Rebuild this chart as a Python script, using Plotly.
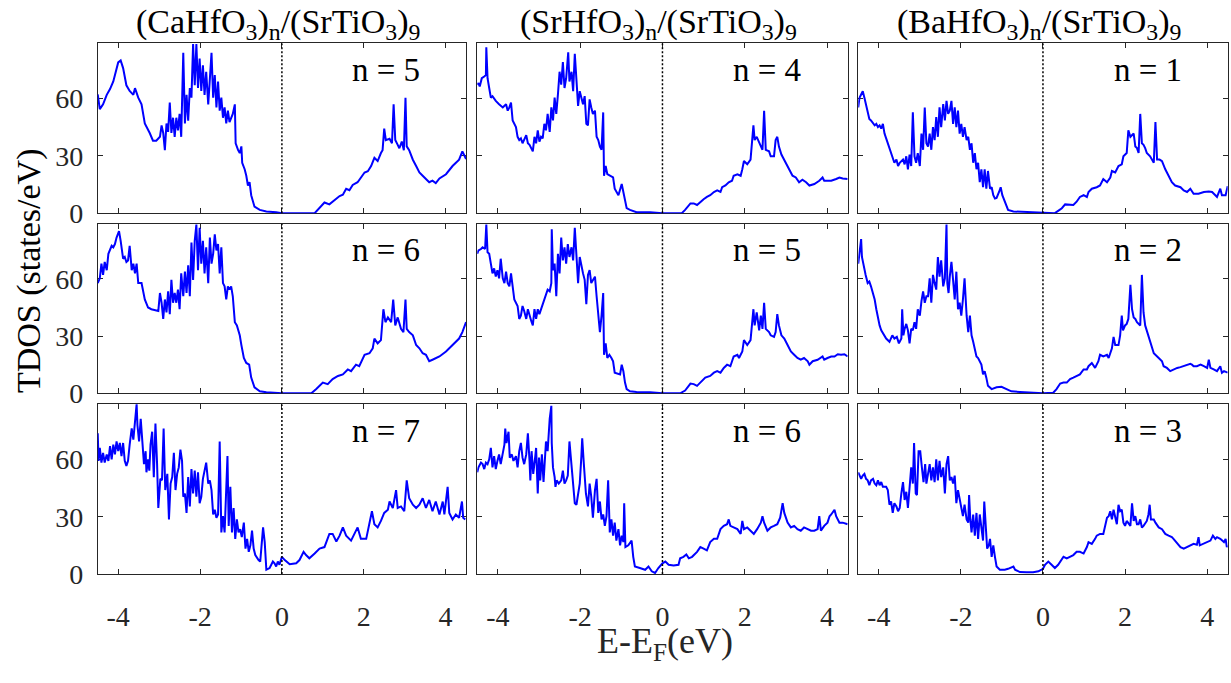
import plotly.graph_objects as go

# ---------------------------------------------------------------
# Total density of states near the Fermi level, E - E_F in eV,
# for three superlattice families (columns) and three n (rows).
# ---------------------------------------------------------------

# (CaHfO3)n/(SrTiO3)9, n = 5
e_ca5 = [-4.50,-4.45,-4.37,-4.28,-4.20,-4.12,-4.00,-3.94,-3.88,-3.80,-3.72,-3.63,-3.59,-3.51,-3.43,-3.35,-3.23,-3.15,-3.07,-2.98,
         -2.94,-2.90,-2.86,-2.82,-2.78,-2.74,-2.70,-2.66,-2.62,-2.58,-2.54,-2.50,-2.46,-2.41,-2.37,-2.33,-2.29,-2.25,-2.21,-2.17,
         -2.13,-2.09,-2.05,-2.01,-1.97,-1.93,-1.89,-1.85,-1.80,-1.76,-1.72,-1.68,-1.64,-1.60,-1.56,-1.52,-1.48,-1.44,-1.40,-1.36,
         -1.32,-1.28,-1.20,-1.15,-1.13,-1.07,-1.03,-0.99,-0.97,-0.91,-0.87,-0.83,-0.79,-0.75,-0.67,-0.54,-0.38,-0.14,0.00,0.80,
         0.92,1.04,1.16,1.24,1.33,1.41,1.49,1.57,1.65,1.73,1.85,1.93,2.02,2.10,2.18,2.26,2.34,2.42,2.46,2.50,
         2.54,2.63,2.69,2.73,2.77,2.83,2.87,2.93,2.98,3.02,3.05,3.11,3.20,3.28,3.36,3.44,3.60,3.68,3.76,3.85,
         4.01,4.17,4.33,4.41,4.50]
dos_ca5 = [62.2,54.5,57.0,62.0,65.0,69.0,79.0,80.0,76.0,67.0,64.0,62.0,65.5,60.5,57.0,47.0,42.0,38.0,38.0,40.0,
           46.0,42.0,33.0,47.0,42.6,58.0,42.0,50.0,40.0,50.0,43.4,52.0,40.0,84.0,47.0,62.0,48.5,65.6,60.5,88.6,
           67.0,88.6,65.6,81.0,64.0,77.5,62.0,74.0,57.0,72.4,84.0,60.5,72.4,55.4,69.0,53.7,60.5,50.0,55.4,47.0,
           53.7,47.7,52.0,57.0,36.6,33.0,31.5,35.0,26.4,23.0,19.6,14.5,16.2,9.4,3.4,1.7,0.9,0.5,0.0,0.0,
           2.6,5.6,4.6,6.0,8.0,9.0,9.7,12.8,12.0,14.8,16.2,18.7,21.3,22.0,24.7,29.0,27.3,31.5,33.0,44.3,
           38.3,39.0,36.6,57.0,38.3,35.8,34.0,37.5,33.0,60.5,35.0,33.0,28.0,24.7,21.3,19.6,16.2,17.0,15.8,18.2,
           20.4,24.7,28.0,32.4,28.4]

# (CaHfO3)n/(SrTiO3)9, n = 6
e_ca6 = [-4.50,-4.45,-4.41,-4.37,-4.33,-4.28,-4.24,-4.20,-4.16,-4.12,-4.08,-4.04,-3.98,-3.94,-3.88,-3.84,-3.80,-3.76,-3.72,-3.67,
         -3.63,-3.59,-3.55,-3.51,-3.43,-3.35,-3.27,-3.19,-3.11,-3.02,-2.98,-2.94,-2.90,-2.86,-2.82,-2.78,-2.74,-2.70,-2.66,-2.62,
         -2.58,-2.54,-2.50,-2.46,-2.41,-2.37,-2.33,-2.29,-2.25,-2.21,-2.17,-2.13,-2.09,-2.05,-2.01,-1.97,-1.93,-1.89,-1.85,-1.80,
         -1.76,-1.72,-1.68,-1.64,-1.60,-1.56,-1.52,-1.48,-1.44,-1.40,-1.36,-1.32,-1.28,-1.24,-1.20,-1.15,-1.10,-1.03,-0.99,-0.93,
         -0.87,-0.80,-0.75,-0.67,-0.54,-0.38,0.00,0.72,0.84,1.00,1.12,1.24,1.37,1.49,1.61,1.69,1.81,1.89,2.02,2.14,
         2.22,2.26,2.34,2.42,2.48,2.53,2.59,2.67,2.72,2.77,2.83,2.91,2.97,3.02,3.05,3.11,3.20,3.28,3.36,3.44,
         3.52,3.60,3.68,3.85,4.01,4.17,4.33,4.41,4.50]
dos_ca6 = [57.8,60.3,68.0,62.1,68.9,64.6,73.2,74.9,77.4,76.6,78.3,81.7,85.1,80.0,70.6,71.5,68.9,69.7,77.4,64.6,
           68.0,62.9,68.0,57.8,57.8,49.2,45.0,44.1,43.8,43.2,52.6,47.5,39.0,49.2,42.4,53.5,41.5,59.5,47.5,52.6,
           47.5,54.4,44.1,62.9,50.9,63.8,52.6,67.2,50.9,79.1,59.5,80.0,88.5,64.6,86.8,68.0,80.0,62.9,76.6,57.8,
           81.7,68.0,73.2,83.4,74.9,78.3,62.9,76.6,57.8,56.1,49.2,56.1,54.4,56.1,50.9,37.3,35.6,30.4,25.3,18.5,
           15.9,15.0,8.2,3.1,1.0,0.5,0.0,0.0,2.2,5.6,4.8,7.4,9.1,9.9,12.5,11.6,15.0,14.2,20.2,21.0,
           23.6,28.7,26.2,27.9,44.1,37.3,39.8,37.3,49.2,35.6,39.8,33.8,32.1,49.2,33.8,32.1,30.4,25.3,23.6,21.0,
           20.2,16.8,17.6,19.3,21.9,25.3,28.7,32.1,37.3]

# (CaHfO3)n/(SrTiO3)9, n = 7
e_ca7 = [-4.50,-4.48,-4.45,-4.41,-4.37,-4.33,-4.28,-4.24,-4.20,-4.16,-4.12,-4.08,-4.04,-4.00,
         -3.96,-3.92,-3.88,-3.84,-3.80,-3.76,-3.72,-3.67,-3.63,-3.59,-3.55,
         -3.53,-3.49,-3.45,-3.41,-3.37,-3.33,-3.31,-3.27,-3.24,-3.21,-3.17,-3.13,-3.09,-3.05,-3.02,
         -2.97,-2.93,-2.89,-2.85,-2.80,-2.76,-2.72,-2.68,-2.64,-2.60,-2.56,-2.52,-2.48,-2.44,-2.41,-2.37,
         -2.33,-2.29,-2.25,-2.21,-2.17,-2.13,-2.09,-2.05,-2.01,-1.97,-1.93,-1.89,-1.85,-1.80,-1.76,-1.72,
         -1.68,-1.64,-1.60,-1.56,-1.52,-1.48,-1.44,-1.40,-1.36,
         -1.33,-1.30,-1.26,-1.22,-1.18,-1.14,-1.10,-1.06,-1.02,-0.98,-0.93,-0.89,-0.85,-0.81,-0.77,-0.73,
         -0.69,-0.65,-0.61,-0.57,-0.53,
         -0.46,-0.42,-0.38,-0.30,-0.22,-0.18,-0.14,-0.10,-0.06,0.00,
         0.07,0.19,0.35,0.43,0.53,0.59,0.67,0.80,0.92,1.04,1.12,1.16,1.24,1.33,1.41,1.49,1.57,1.69,1.85,1.93,2.06,
         2.14,2.20,2.26,2.34,2.42,2.50,2.59,2.63,2.71,2.79,2.83,2.91,2.99,3.05,3.11,
         3.20,3.28,3.36,3.44,3.52,3.60,3.68,3.76,3.85,3.93,3.97,4.05,4.09,4.17,4.25,4.33,4.40,4.43,4.48]
dos_ca7 = [73.8,59.3,66.1,58.4,63.5,58.4,62.7,59.3,67.0,60.1,67.8,62.7,69.5,64.4,
           68.7,61.8,68.7,59.3,56.7,59.3,67.8,76.3,70.4,82.3,89.1,
           78.0,69.5,81.4,69.5,57.6,64.4,53.3,60.1,54.2,67.8,74.6,50.8,78.9,57.6,34.6,
           49.9,49.1,76.3,44.0,52.5,28.6,47.4,50.8,63.5,44.0,52.5,55.9,65.2,59.3,40.5,42.2,
           32.0,50.8,35.4,55.0,42.2,54.2,40.5,53.3,37.1,40.5,49.9,54.2,58.4,47.4,49.1,44.0,
           31.2,33.7,29.5,31.2,69.5,21.8,30.3,21.8,44.8,
           61.8,25.2,45.7,21.8,34.6,18.4,28.6,21.8,23.5,19.3,26.9,13.3,18.4,11.6,15.0,22.7,
           13.3,9.9,8.2,7.3,6.5,
           24.4,16.7,2.2,3.1,6.5,5.6,3.9,6.5,4.8,9.0,
           7.3,5.1,5.6,7.3,11.6,9.9,8.2,10.7,13.3,14.1,18.4,21.0,21.0,17.0,20.1,24.4,20.1,17.5,24.4,18.4,18.4,
           26.9,32.9,26.1,24.4,27.8,32.0,33.7,38.0,34.6,44.0,34.6,35.4,32.9,49.1,39.7,
           36.3,34.6,36.3,39.7,34.6,38.8,32.9,38.0,31.2,38.0,31.2,45.7,32.0,28.6,31.2,29.5,38.0,29.5,28.6]

# (SrHfO3)n/(SrTiO3)9, n = 4
e_sr4 = [-4.50,-4.47,-4.44,-4.39,-4.33,-4.29,-4.28,-4.25,-4.21,-4.17,-4.13,-4.05,-3.97,-3.88,-3.80,-3.76,-3.72,-3.68,-3.64,-3.56,
         -3.52,-3.48,-3.44,-3.40,-3.31,-3.27,-3.23,-3.19,-3.15,-3.11,-3.07,-3.03,-2.99,-2.95,-2.91,-2.87,-2.83,-2.79,-2.74,-2.70,
         -2.66,-2.62,-2.58,-2.54,-2.50,-2.46,-2.42,-2.38,-2.34,-2.29,-2.26,-2.21,-2.17,-2.13,-2.09,-2.05,-2.01,-1.97,-1.93,-1.89,
         -1.85,-1.81,-1.77,-1.73,-1.69,-1.64,-1.60,-1.56,-1.52,-1.48,-1.44,-1.42,-1.38,-1.34,-1.28,-1.20,-1.16,-1.12,-1.07,-0.99,
         -0.95,-0.91,-0.87,-0.79,-0.63,-0.30,0.00,0.47,0.55,0.68,0.76,0.84,0.92,1.00,1.08,1.16,1.25,1.33,1.41,1.45,
         1.53,1.61,1.69,1.73,1.82,1.90,1.94,1.98,2.06,2.14,2.21,2.24,2.29,2.37,2.43,2.47,2.51,2.59,2.63,2.71,
         2.75,2.79,2.83,2.89,3.00,3.08,3.16,3.24,3.32,3.40,3.49,3.57,3.69,3.81,3.89,3.93,4.10,4.22,4.30,4.38,
         4.50]
dos_sr4 = [67.3,68.1,66.4,70.7,71.6,72.4,86.9,70.7,65.6,60.5,61.3,58.8,57.1,55.4,57.1,53.7,55.4,57.9,48.6,45.1,
           40.0,38.3,39.2,36.6,40.9,36.6,35.8,34.1,32.4,40.0,36.6,43.4,37.5,40.0,39.2,46.8,43.4,52.0,42.6,55.4,
           48.6,60.5,52.0,62.2,74.1,67.3,79.2,65.6,70.7,84.3,69.0,74.1,63.9,83.5,69.0,56.2,63.9,60.5,57.1,61.3,
           46.8,46.0,59.6,55.4,52.0,53.7,40.0,38.3,34.9,33.2,52.8,19.6,24.7,20.4,19.6,18.7,12.8,11.1,9.4,15.3,
           11.1,6.0,2.6,1.7,0.5,0.5,0.0,0.0,1.7,5.1,5.1,4.3,6.0,7.3,8.5,9.4,11.1,11.9,11.1,13.6,
           14.5,16.2,17.0,19.6,20.4,19.6,23.0,27.3,25.6,28.1,46.0,38.3,40.0,35.8,33.2,53.7,33.2,32.4,29.8,29.8,
           38.3,40.0,34.9,30.7,26.4,23.0,19.6,18.7,16.2,17.5,16.2,14.5,15.3,17.0,18.7,17.0,17.0,17.9,18.7,18.2,
           17.9]

# (SrHfO3)n/(SrTiO3)9, n = 5
e_sr5 = [-4.50,-4.47,-4.41,-4.37,-4.31,-4.28,-4.25,-4.21,-4.17,-4.13,-4.09,-4.05,-4.01,-3.97,-3.93,-3.88,-3.84,-3.80,-3.76,-3.72,
         -3.68,-3.64,-3.60,-3.52,-3.48,-3.44,-3.40,-3.36,-3.31,-3.27,-3.23,-3.19,-3.15,-3.11,-3.07,-3.03,-2.99,-2.95,-2.91,-2.87,
         -2.83,-2.79,-2.74,-2.70,-2.69,-2.66,-2.62,-2.58,-2.54,-2.50,-2.46,-2.42,-2.38,-2.34,-2.30,-2.26,-2.21,-2.17,-2.13,-2.09,
         -2.05,-2.01,-1.97,-1.93,-1.89,-1.85,-1.81,-1.77,-1.73,-1.69,-1.64,-1.60,-1.56,-1.52,-1.48,-1.44,-1.42,-1.38,-1.34,-1.29,
         -1.24,-1.20,-1.16,-1.07,-1.03,-0.99,-0.95,-0.91,-0.87,-0.79,-0.63,-0.30,0.00,0.43,0.55,0.68,0.76,0.84,0.96,1.04,
         1.16,1.25,1.33,1.41,1.49,1.57,1.65,1.73,1.82,1.86,1.94,1.98,2.06,2.14,2.21,2.24,2.29,2.35,2.39,2.43,
         2.47,2.51,2.59,2.63,2.71,2.75,2.79,2.83,2.89,2.96,3.04,3.12,3.20,3.28,3.36,3.44,3.53,3.57,3.65,3.77,
         3.89,3.93,4.01,4.10,4.18,4.26,4.34,4.42,4.50]
dos_sr5 = [73.2,74.9,75.7,76.6,75.7,88.5,74.0,73.2,68.0,62.9,65.5,61.2,64.6,60.3,70.6,60.3,57.8,63.8,57.8,56.1,
           62.9,54.4,49.2,45.8,39.0,40.7,45.8,43.2,39.0,44.1,40.7,38.1,35.6,44.1,39.0,44.1,41.5,44.1,46.7,49.2,
           52.6,54.4,53.5,57.8,86.0,64.6,68.0,50.9,73.2,62.9,81.7,69.7,76.6,68.0,78.3,71.5,76.6,69.7,86.8,73.2,
           57.8,71.5,66.3,62.9,59.5,46.7,62.1,64.6,57.8,59.5,61.2,50.9,40.7,32.1,40.7,52.6,20.2,26.2,18.5,20.2,
           18.5,16.8,10.8,9.9,9.9,15.0,11.6,5.6,2.2,1.0,0.7,0.5,0.0,0.0,1.4,5.1,4.8,3.9,6.5,8.2,
           9.1,10.8,11.6,10.8,13.3,15.0,14.2,19.3,20.2,18.5,21.9,27.9,25.3,27.9,44.1,35.6,42.4,33.0,40.7,33.8,
           47.5,33.8,32.1,30.4,29.6,32.1,41.5,35.6,30.4,28.7,25.3,21.9,20.2,18.5,17.6,18.5,16.8,15.0,16.8,17.6,
           19.3,17.6,18.5,19.3,19.3,20.5,20.2,20.5,19.3]

# (SrHfO3)n/(SrTiO3)9, n = 6
e_sr6 = [-4.50,-4.47,-4.41,-4.37,-4.33,-4.29,-4.25,-4.21,-4.17,-4.13,-4.09,-4.05,-4.01,-3.97,-3.93,-3.88,-3.84,-3.82,-3.79,-3.74,
         -3.71,-3.66,-3.62,-3.56,-3.52,-3.48,-3.44,-3.40,-3.36,-3.31,-3.27,-3.23,-3.21,-3.18,-3.14,-3.09,-3.07,-3.03,-3.00,-2.97,
         -2.93,-2.89,-2.87,-2.83,-2.79,-2.74,-2.70,-2.69,-2.66,-2.62,-2.60,-2.57,-2.52,-2.46,-2.42,-2.38,-2.34,-2.30,-2.26,-2.21,
         -2.17,-2.13,-2.09,-2.05,-2.01,-1.97,-1.95,-1.91,-1.86,-1.81,-1.77,-1.73,-1.69,-1.64,-1.60,-1.56,-1.52,-1.48,-1.44,-1.40,
         -1.36,-1.32,-1.28,-1.24,-1.20,-1.16,-1.12,-1.07,-1.03,-0.99,-0.95,-0.93,-0.90,-0.83,-0.75,-0.71,-0.67,-0.55,-0.42,-0.34,
         -0.26,-0.18,-0.10,0.00,0.07,0.15,0.27,0.39,0.43,0.51,0.58,0.64,0.72,0.84,0.92,1.00,1.08,1.16,1.25,1.33,
         1.41,1.49,1.57,1.61,1.65,1.73,1.82,1.90,1.94,1.98,2.06,2.14,2.22,2.30,2.39,2.43,2.47,2.55,2.63,2.71,
         2.79,2.86,2.92,2.96,3.04,3.12,3.20,3.28,3.36,3.44,3.53,3.61,3.69,3.77,3.81,3.85,3.93,4.01,4.06,4.10,
         4.18,4.22,4.30,4.38,4.50]
dos_sr6 = [53.3,55.9,58.4,57.6,55.0,58.4,57.6,60.1,66.1,55.9,61.8,55.0,59.3,62.7,57.6,64.4,67.8,76.3,68.7,74.6,
           61.0,62.7,59.3,61.8,55.9,64.4,68.7,61.0,57.6,62.7,73.8,59.3,49.1,64.4,52.5,61.8,66.1,42.2,61.0,49.1,
           62.7,48.2,57.6,69.5,64.4,81.4,88.2,68.7,55.9,50.8,45.7,49.1,47.4,49.1,54.2,47.4,49.1,51.6,69.5,55.9,
           47.4,37.1,36.3,42.2,47.4,61.8,71.2,57.6,42.2,35.4,47.4,40.5,29.5,44.0,49.9,32.0,38.0,28.6,31.2,25.2,
           30.3,49.1,21.8,28.6,20.1,26.9,17.5,23.5,15.0,20.1,16.7,37.1,14.1,15.0,17.5,9.0,3.9,3.1,2.2,3.9,
           1.4,0.5,3.1,5.6,6.5,4.8,4.4,4.8,8.2,9.0,10.2,8.2,9.0,11.6,14.1,13.3,12.4,16.7,18.4,18.4,
           23.5,25.2,26.1,28.6,25.2,24.4,23.5,21.0,27.8,23.5,24.4,22.7,21.0,23.5,26.9,30.3,26.9,22.7,24.4,25.2,
           26.1,29.5,37.1,32.0,26.9,24.4,25.2,23.5,22.7,24.4,23.5,22.7,22.7,23.5,30.3,22.7,25.2,26.9,30.3,31.2,
           33.7,30.3,26.9,26.9,26.1]

# (BaHfO3)n/(SrTiO3)9, n = 1
e_ba1 = [-4.50,-4.47,-4.43,-4.39,-4.35,-4.31,-4.27,-4.23,-4.19,-4.14,-4.10,-4.06,-4.02,-3.98,-3.94,-3.90,-3.86,-3.82,-3.78,-3.74,
         -3.70,-3.66,-3.62,-3.57,-3.53,-3.49,-3.45,-3.41,-3.37,-3.33,-3.29,-3.25,-3.21,-3.17,-3.13,-3.09,-3.05,-3.00,-2.96,-2.92,
         -2.88,-2.84,-2.80,-2.76,-2.72,-2.68,-2.64,-2.60,-2.56,-2.52,-2.48,-2.43,-2.39,-2.35,-2.31,-2.27,-2.23,-2.19,-2.15,-2.11,
         -2.07,-2.03,-1.99,-1.95,-1.91,-1.86,-1.82,-1.78,-1.74,-1.70,-1.66,-1.62,-1.58,-1.54,-1.50,-1.46,-1.42,-1.38,-1.34,-1.29,
         -1.25,-1.21,-1.17,-1.13,-1.07,-1.03,-0.99,-0.93,-0.85,-0.72,-0.40,0.00,0.29,0.37,0.46,0.54,0.66,0.74,0.82,0.90,
         0.99,1.07,1.11,1.19,1.31,1.39,1.47,1.56,1.64,1.68,1.76,1.84,1.92,1.96,2.04,2.08,2.13,2.21,2.25,2.29,
         2.33,2.37,2.41,2.45,2.49,2.53,2.61,2.70,2.74,2.78,2.84,2.90,2.98,3.06,3.14,3.22,3.35,3.43,3.51,3.59,
         3.67,3.79,3.92,4.04,4.12,4.20,4.24,4.32,4.36,4.45,4.50]
dos_ba1 = [55.4,60.5,62.2,63.9,60.5,57.1,53.7,49.4,48.6,46.8,46.0,46.8,45.1,46.0,44.3,46.8,41.7,39.2,36.6,34.1,
           32.4,29.8,26.4,28.1,24.7,26.4,27.3,28.1,25.6,29.8,23.0,30.7,24.7,52.8,29.8,26.4,31.5,24.7,41.7,33.2,
           55.4,36.6,34.9,41.7,33.2,45.1,38.3,50.3,40.0,55.4,45.1,57.1,48.6,58.8,52.0,53.7,58.8,46.8,55.4,45.1,
           53.7,41.7,46.8,40.0,45.1,38.3,40.0,33.2,36.6,26.4,31.5,23.0,26.4,16.2,23.0,13.6,23.0,12.8,22.1,12.8,
           13.6,9.4,7.7,8.0,11.1,13.6,9.4,6.0,1.7,0.9,0.5,0.0,0.0,1.2,2.6,4.6,4.3,4.3,6.0,8.5,
           9.4,8.5,11.1,12.8,13.6,14.5,17.9,16.2,18.7,22.1,21.3,24.7,25.6,29.8,31.5,43.4,40.0,41.7,34.9,34.1,
           31.5,52.0,36.6,35.8,34.1,31.5,29.8,26.4,47.7,28.1,28.1,27.3,23.0,19.6,16.2,14.5,13.6,11.9,11.1,12.8,
           10.2,10.2,11.1,11.4,11.1,9.4,8.5,12.8,9.4,9.4,14.1]

# (BaHfO3)n/(SrTiO3)9, n = 2
e_ba2 = [-4.50,-4.47,-4.43,-4.41,-4.37,-4.32,-4.27,-4.23,-4.19,-4.14,-4.10,-4.06,-4.02,-3.98,-3.94,-3.90,-3.82,-3.74,-3.67,-3.62,
         -3.56,-3.51,-3.45,-3.43,-3.40,-3.37,-3.33,-3.29,-3.25,-3.21,-3.17,-3.13,-3.09,-3.05,-3.00,-2.96,-2.92,-2.88,-2.84,-2.80,
         -2.76,-2.72,-2.68,-2.64,-2.60,-2.56,-2.52,-2.48,-2.43,-2.39,-2.35,-2.33,-2.30,-2.27,-2.23,-2.19,-2.15,-2.11,-2.07,-2.03,
         -1.99,-1.95,-1.91,-1.86,-1.82,-1.78,-1.74,-1.70,-1.66,-1.62,-1.58,-1.54,-1.50,-1.46,-1.42,-1.38,-1.34,-1.25,-1.13,-1.01,
         -0.89,-0.77,-0.56,-0.24,0.00,0.25,0.33,0.42,0.50,0.58,0.66,0.74,0.82,0.90,0.99,1.07,1.11,1.19,1.27,1.35,
         1.39,1.47,1.56,1.60,1.68,1.72,1.76,1.84,1.88,1.92,1.95,2.00,2.04,2.08,2.13,2.17,2.21,2.25,2.29,2.33,
         2.37,2.41,2.45,2.49,2.57,2.65,2.70,2.82,2.90,2.94,3.02,3.10,3.18,3.27,3.35,3.43,3.51,3.59,3.63,3.67,
         3.75,3.84,3.92,4.00,4.04,4.08,4.16,4.24,4.32,4.36,4.41,4.50]
dos_ba2 = [68.0,73.2,80.9,71.5,66.3,62.1,57.8,58.6,56.1,52.6,49.2,44.1,39.0,35.6,33.0,31.3,28.7,27.0,30.4,28.7,
           29.6,26.2,28.7,44.1,30.4,33.8,36.4,33.0,26.2,33.8,33.0,37.3,33.8,44.1,40.7,48.4,53.5,47.5,50.9,50.9,
           60.3,47.5,62.1,57.8,54.4,71.5,61.2,69.7,56.1,60.3,88.5,57.8,52.6,61.2,68.9,59.5,49.2,63.8,44.1,47.5,
           40.7,49.2,60.3,40.7,32.1,40.7,30.4,27.0,23.6,19.3,18.5,16.8,15.0,9.9,11.6,8.2,3.9,2.2,3.1,3.4,
           2.2,1.0,0.7,0.5,0.0,0.3,2.2,5.1,5.6,5.6,7.4,8.2,9.1,9.9,12.5,12.5,14.2,15.9,13.3,16.8,
           20.2,19.3,20.2,18.5,23.6,29.6,25.3,25.3,30.4,40.7,33.0,35.6,36.4,39.0,56.9,44.1,39.8,39.0,37.3,36.4,
           35.6,62.1,42.4,35.6,30.4,25.3,21.0,18.5,16.8,14.2,13.3,11.6,12.5,13.3,13.7,14.2,14.7,15.4,15.0,14.2,
           14.2,15.0,14.2,13.3,17.6,13.3,12.5,11.6,14.2,10.8,11.6,10.8]

# (BaHfO3)n/(SrTiO3)9, n = 3
e_ba3 = [-4.50,-4.47,-4.43,-4.39,-4.35,-4.31,-4.27,-4.23,-4.19,-4.14,-4.10,-4.06,-4.02,-3.98,-3.94,-3.90,-3.82,-3.78,-3.74,-3.70,
         -3.66,-3.62,-3.57,-3.53,-3.49,-3.45,-3.41,-3.37,-3.33,-3.29,-3.25,-3.21,-3.17,-3.14,-3.10,-3.07,-3.03,-2.99,-2.95,-2.91,
         -2.87,-2.84,-2.80,-2.76,-2.72,-2.68,-2.64,-2.60,-2.56,-2.52,-2.48,-2.43,-2.39,-2.35,-2.31,-2.27,-2.23,-2.19,-2.15,-2.11,
         -2.07,-2.03,-1.99,-1.95,-1.91,-1.86,-1.82,-1.80,-1.77,-1.74,-1.70,-1.66,-1.62,-1.58,-1.54,-1.50,-1.46,-1.43,-1.39,-1.36,
         -1.32,-1.29,-1.25,-1.21,-1.17,-1.13,-1.05,-0.93,-0.85,-0.72,-0.68,-0.56,-0.40,-0.24,-0.11,0.00,0.05,0.13,0.21,0.29,
         0.37,0.50,0.58,0.66,0.74,0.82,0.90,0.99,1.07,1.11,1.19,1.27,1.31,1.39,1.47,1.56,1.60,1.64,1.68,1.72,
         1.76,1.80,1.84,1.88,1.92,1.96,2.00,2.04,2.13,2.17,2.21,2.25,2.29,2.33,2.37,2.41,2.45,2.49,2.53,2.57,
         2.60,2.63,2.70,2.74,2.82,2.90,2.98,3.06,3.14,3.18,3.27,3.35,3.43,3.51,3.59,3.67,3.75,3.79,3.82,3.92,
         4.00,4.08,4.14,4.20,4.24,4.32,4.41,4.45,4.48,4.50]
dos_ba3 = [53.3,51.6,49.9,51.6,52.5,49.9,49.1,46.5,49.1,49.9,47.4,46.5,49.1,46.5,48.2,45.7,45.7,44.0,36.3,38.0,
           32.0,37.1,35.4,32.9,34.6,42.2,48.2,38.8,43.1,34.6,47.4,55.9,47.4,68.7,42.2,41.4,64.4,64.4,55.9,48.2,
           57.6,47.4,52.5,57.6,49.1,55.9,48.2,60.1,49.1,59.3,50.8,55.9,42.2,57.6,61.8,49.1,50.8,47.4,51.6,37.1,
           44.0,38.8,33.7,30.3,36.3,28.6,26.9,41.4,28.6,21.8,31.2,20.1,32.0,18.4,31.2,25.2,17.5,38.0,23.5,13.3,
           15.0,18.4,9.0,15.0,9.0,3.9,2.2,2.2,2.7,3.9,2.2,1.0,0.9,0.9,1.4,2.7,4.8,6.5,4.8,3.1,
           4.8,9.0,8.2,9.0,9.9,11.6,11.6,10.7,14.1,16.7,15.8,18.4,20.1,21.0,21.0,29.5,30.3,32.9,28.6,33.7,
           30.3,26.1,36.3,32.9,33.7,26.9,25.2,27.8,25.2,37.1,27.8,30.3,26.1,26.1,28.6,24.4,25.2,26.9,27.8,31.2,
           36.3,28.6,28.6,26.9,24.4,23.5,21.0,20.1,19.3,18.4,15.8,14.1,13.3,14.1,15.0,15.8,15.3,19.3,15.0,15.8,
           16.7,17.5,20.1,18.4,19.3,18.4,16.7,18.4,14.1,15.0]

# grid layout: columns = host family, rows = panel order top to bottom
column_titles = ["(CaHfO<sub>3</sub>)<sub>n</sub>/(SrTiO<sub>3</sub>)<sub>9</sub>",
                 "(SrHfO<sub>3</sub>)<sub>n</sub>/(SrTiO<sub>3</sub>)<sub>9</sub>",
                 "(BaHfO<sub>3</sub>)<sub>n</sub>/(SrTiO<sub>3</sub>)<sub>9</sub>"]
panels = [  # (row, col, energies, dos, n)
    (0, 0, e_ca5, dos_ca5, 5), (1, 0, e_ca6, dos_ca6, 6), (2, 0, e_ca7, dos_ca7, 7),
    (0, 1, e_sr4, dos_sr4, 4), (1, 1, e_sr5, dos_sr5, 5), (2, 1, e_sr6, dos_sr6, 6),
    (0, 2, e_ba1, dos_ba1, 1), (1, 2, e_ba2, dos_ba2, 2), (2, 2, e_ba3, dos_ba3, 3),
]
x_ticks = [-4, -2, 0, 2, 4]
y_ticks = [0, 30, 60]
x_range = [-4.5, 4.5]
y_range = [0, 89]

col_domains = [[0.0794, 0.3786], [0.3877, 0.6886], [0.6972, 0.9973]]
row_domains = [[0.6804, 0.9351], [0.4104, 0.6647], [0.1395, 0.3939]]

SERIF = "Liberation Serif"
AX = "#262626"

fig = go.Figure()
layout = {}
annotations = []
shapes = []

for row, col, energies, dos, n in panels:
    assert len(energies) == len(dos)
    idx = row * 3 + col + 1
    xa = "x" if idx == 1 else f"x{idx}"
    ya = "y" if idx == 1 else f"y{idx}"
    fig.add_trace(go.Scatter(x=energies, y=dos, mode="lines",
                             line=dict(color="#0000FF", width=2),
                             xaxis=xa, yaxis=ya, showlegend=False,
                             hoverinfo="skip"))
    common = dict(showline=True, linecolor=AX, linewidth=1, mirror="ticks",
                  ticks="inside", ticklen=5, tickwidth=1, tickcolor=AX,
                  showgrid=False, zeroline=False, layer="below traces",
                  tickfont=dict(family=SERIF, size=28, color=AX))
    layout[f"xaxis{'' if idx == 1 else idx}"] = dict(
        common, domain=col_domains[col], range=x_range, tickvals=x_ticks,
        ticktext=[str(v) for v in x_ticks], showticklabels=(row == 2),
        anchor=ya, ticklabelstandoff=17)
    layout[f"yaxis{'' if idx == 1 else idx}"] = dict(
        common, domain=row_domains[row], range=y_range, tickvals=y_ticks,
        showticklabels=(col == 0), anchor=xa, ticklabelstandoff=8)
    # Fermi level marker
    shapes.append(dict(type="line", xref=xa, yref=ya, x0=0, x1=0, y0=0, y1=y_range[1],
                       line=dict(color="black", width=1.5, dash="2px,2px"), layer="above"))
    annotations.append(dict(xref=xa, yref=ya, x=2.55, y=75, text=f"n = {n}",
                            showarrow=False, xanchor="center", yanchor="middle",
                            font=dict(family=SERIF, size=33, color="black")))

for col, title in enumerate(column_titles):
    annotations.append(dict(xref="paper", yref="paper",
                            x=sum(col_domains[col]) / 2 - 0.003, y=0.997,
                            text=title, showarrow=False, xanchor="center", yanchor="top",
                            borderpad=0,
                            font=dict(family=SERIF, size=34, color="black")))

annotations.append(dict(xref="paper", yref="paper", x=0.0235, y=0.595,
                        text="TDOS (states/eV)", textangle=-90, showarrow=False,
                        xanchor="center", yanchor="middle",
                        font=dict(family=SERIF, size=34, color="black")))
annotations.append(dict(xref="paper", yref="paper", x=0.54, y=0.0,
                        text="E-E<sub>F</sub>(eV)", showarrow=False,
                        xanchor="center", yanchor="bottom", borderpad=0,
                        font=dict(family=SERIF, size=36, color="#262626")))

fig.update_layout(**layout)
fig.update_layout(width=1231, height=683, autosize=False,
                  margin=dict(l=0, r=0, t=0, b=0),
                  paper_bgcolor="white", plot_bgcolor="white",
                  font=dict(family=SERIF),
                  annotations=annotations, shapes=shapes)

fig.write_html("out.html")
